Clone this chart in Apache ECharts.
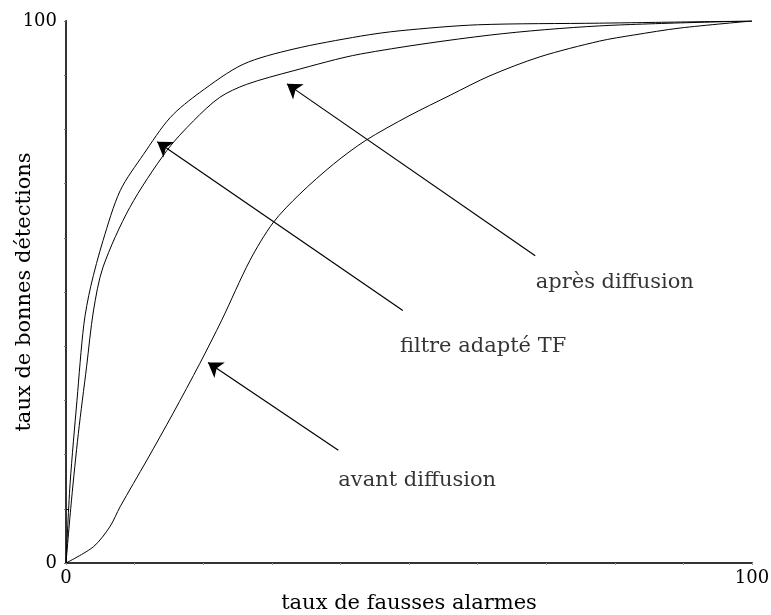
<!DOCTYPE html>
<html>
<head>
<meta charset="utf-8">
<script src="https://cdn.jsdelivr.net/npm/echarts@6/dist/echarts.min.js"></script>
<style>
  html, body { margin: 0; padding: 0; background: #fff; }
  #chart { width: 771px; height: 615px; }
</style>
</head>
<body>
<div id="chart"></div>
<script>
// ROC curves: detection rate vs false alarm rate (percent)
const apresDiffusion = [
  [0, 0], [0.6, 14.7], [1.6, 30], [2.6, 44], [3.6, 51], [5.4, 59.5], [7.9, 68.7],
  [11.3, 75.4], [15.2, 82.2], [19.5, 86.8], [25.8, 92.0], [33.1, 94.8], [42.9, 97.2],
  [48.7, 98.2], [60, 99.3], [77.8, 99.6], [100, 100]
];
const filtreAdapteTF = [
  [0, 0], [0.8, 11.6], [1.8, 23.9], [3.0, 36.2], [4.0, 46.5], [5.4, 54.6], [9.3, 65.6],
  [14.7, 76.1], [18.6, 81.6], [22.4, 85.9], [26.3, 88.3], [33.1, 90.8], [42.9, 93.9],
  [61.8, 97.4], [77.8, 99.1], [100, 100]
];
const avantDiffusion = [
  [0, 0], [4.0, 3.0], [6.4, 6.7], [7.9, 10.4], [11.8, 19.0], [15.6, 27.6], [19.5, 36.8],
  [22.7, 44.8], [26.8, 55.8], [30.2, 62.8], [34.1, 68.1], [39.0, 73.6], [43.6, 77.9],
  [50, 82.5], [56, 86.3], [61.8, 89.9], [69.1, 93.4], [77.8, 96.3], [82.7, 97.4],
  [89.5, 98.7], [100, 100]
];

// annotation arrows: [tail, head]
const arrowApres = [[68.4, 56.7], [32.2, 88.4]];
const arrowFiltre = [[49.1, 46.6], [13.3, 77.7]];
const arrowAvant = [[39.7, 20.8], [20.7, 37.0]];

// annotation texts and anchor points
const annotNames = ['après diffusion', 'filtre adapté TF', 'avant diffusion'];
const annotPoints = [[80, 51.8], [60.8, 40], [51.2, 15.3]];

const axisTickLabels = [0, 100];
const xAxisName = 'taux de fausses alarmes';
const yAxisName = 'taux de bonnes détections';

const FONT = 'DejaVu Serif';
const lineStyle = { color: '#000', width: 1 };

const chart = echarts.init(document.getElementById('chart'), null, { renderer: 'canvas' });

const curve = (name, data) => ({
  name, type: 'line', data, smooth: 0.3, symbol: 'none',
  lineStyle, xAxisIndex: 0, yAxisIndex: 0, silent: true, z: 3
});

chart.setOption({
  animation: false,
  backgroundColor: '#fff',
  grid: { left: 66, right: 19, top: 21, bottom: 52, containLabel: false, outerBoundsMode: 'none' },
  xAxis: [
    {
      type: 'value', min: 0, max: 100, interval: 10, position: 'bottom',
      name: xAxisName, nameLocation: 'middle', nameGap: 30, nameMoveOverlap: false,
      nameTextStyle: { fontFamily: FONT, fontSize: 21, color: '#000' },
      axisLine: { show: true, lineStyle: { color: '#333', width: 2 } },
      axisTick: { show: false },
      axisLabel: { customValues: axisTickLabels, margin: 6, fontFamily: FONT, fontSize: 18, color: '#000' },
      splitLine: { show: false }
    },
    {
      type: 'value', min: 0, max: 100, interval: 10, position: 'top',
      axisLine: { show: true, lineStyle: { color: '#333', width: 1 } },
      axisTick: { show: true, inside: true, length: 2, lineStyle: { color: '#999' } },
      axisLabel: { show: false },
      splitLine: { show: false }
    }
  ],
  yAxis: [
    {
      type: 'value', min: 0, max: 100, interval: 10, position: 'left',
      name: yAxisName, nameLocation: 'middle', nameGap: 31, nameMoveOverlap: false,
      nameTextStyle: { fontFamily: FONT, fontSize: 21, color: '#000' },
      axisLine: { show: true, lineStyle: { color: '#333', width: 2 } },
      axisTick: { show: true, customValues: [10], length: 3, inside: true, lineStyle: { color: '#000' } },
      axisLabel: { customValues: axisTickLabels, margin: 9, fontFamily: FONT, fontSize: 18, color: '#000' },
      splitLine: { show: false }
    },
    {
      type: 'value', min: 0, max: 100, interval: 10, position: 'right',
      axisLine: { show: true, lineStyle: { color: '#333', width: 1 } },
      axisTick: { show: true, inside: true, length: 2, lineStyle: { color: '#777' } },
      axisLabel: { show: false },
      splitLine: { show: false }
    }
  ],
  series: [
    curve('après diffusion', apresDiffusion),
    curve('filtre adapté TF', filtreAdapteTF),
    curve('avant diffusion', avantDiffusion),
    {
      type: 'lines', coordinateSystem: 'cartesian2d', silent: true, z: 4,
      symbol: ['none', 'arrow'], symbolSize: 14,
      lineStyle: { color: '#000', width: 1.2, opacity: 1 },
      data: [arrowApres, arrowFiltre, arrowAvant].map(c => ({ coords: c }))
    },
    {
      type: 'scatter', symbolSize: 0, silent: true, z: 5,
      data: annotPoints.map((p, i) => ({ value: p, name: annotNames[i] })),
      label: {
        show: true, position: [0, 0], align: 'center', verticalAlign: 'middle',
        formatter: p => p.name,
        fontFamily: FONT, fontSize: 21, color: '#000'
      }
    }
  ]
});
</script>
</body>
</html>
